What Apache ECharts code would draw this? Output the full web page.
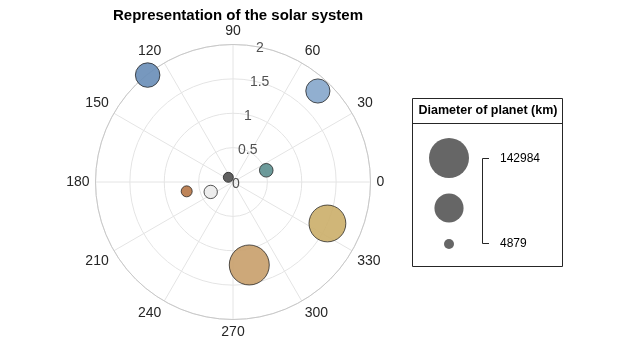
<!DOCTYPE html>
<html><head><meta charset="utf-8">
<script src="https://cdn.jsdelivr.net/npm/echarts@6/dist/echarts.min.js"></script>
<style>html,body{margin:0;padding:0;background:#fff}#c{width:640px;height:360px}</style>
</head><body><div id="c"></div>
<script>
// Data
var planets = ['Mercury','Venus','Earth','Mars','Jupiter','Saturn','Uranus','Neptune'];
var thetaDeg = [135, 204, 19.4, 191.4, 281.1, 336.3, 128.6, 47];
var rValues = [0.096, 0.355, 0.513, 0.687, 1.23, 1.50, 1.99, 1.81];
var diameterKm = [4879, 12104, 12756, 6792, 142984, 120536, 51118, 49528];
var planetColors = ['#545454','#ececec','#5f9191','#b87a4b','#c9a16e','#ccb06c','#6b8fb8','#88a8cc'];
var angleTicks = [0,30,60,90,120,150,180,210,240,270,300,330];
var radiusTicks = [0, 0.5, 1, 1.5, 2];
var radiusTickAngle = 80;

var minD = 10, maxD = 40;
var kMin = Math.min.apply(null, diameterKm), kMax = Math.max.apply(null, diameterKm);
function sz(k){ var a = minD*minD + (maxD*maxD - minD*minD)*(k - kMin)/(kMax - kMin); return Math.sqrt(a); }

var cx = 233, cy = 182, R = 137.5;
var font = 'Liberation Sans, Arial, sans-serif';

var chart = echarts.init(document.getElementById('c'), null, {renderer:'canvas'});

var bubbleData = planets.map(function(p,i){
  return {name:p, value:[rValues[i], thetaDeg[i]], symbolSize: sz(diameterKm[i]),
    itemStyle:{color: planetColors[i], borderColor:'#1a1a1a', borderWidth:0.8, opacity:0.92}};
});
var rLabelData = radiusTicks.map(function(t){ return {value:[t, radiusTickAngle], label:{formatter:String(t)}}; });

// legend geometry
var lgX = 412, lgY = 98, lgW = 150, lgH = 168;
var bigR = sz(kMax)/2, smallR = sz(kMin)/2;
var midR = Math.sqrt((bigR*bigR + smallR*smallR)/2);
var bx = 449, yBig = 158, yMid = 208, ySmall = 244;

chart.setOption({
  animation:false,
  title:{text:'Representation of the solar system', left:cx, top:3, textAlign:'center',
    textStyle:{fontFamily:font, fontSize:15, fontWeight:'bold', color:'#000'}},
  polar:{center:[cx,cy], radius:R},
  angleAxis:{type:'value', min:0, max:360, interval:30, startAngle:0, clockwise:false,
    axisLine:{show:true, lineStyle:{color:'#c8c8c8', width:1}},
    axisTick:{show:false},
    splitLine:{show:true, lineStyle:{color:'#e4e4e4', width:1}},
    axisLabel:{show:true, margin:6, fontFamily:font, fontSize:14, color:'#262626',
      formatter:function(v){ return angleTicks.indexOf(v) >= 0 ? String(v) : ''; }}
  },
  radiusAxis:{type:'value', min:0, max:2, interval:0.5,
    axisLine:{show:false}, axisTick:{show:false}, axisLabel:{show:false},
    splitLine:{show:true, lineStyle:{color:'#e4e4e4', width:1}}
  },
  series:[
    {type:'scatter', coordinateSystem:'polar', data:bubbleData, z:3},
    {type:'scatter', coordinateSystem:'polar', data:rLabelData, symbolSize:0, silent:true, z:4,
      label:{show:true, position:'right', distance:0, offset:[-1,2], fontFamily:font, fontSize:14, color:'#262626'}}
  ],
  graphic:[
    {type:'rect', shape:{x:lgX+0.5, y:lgY+0.5, width:lgW, height:lgH}, style:{fill:'#fff', stroke:'#262626', lineWidth:1}},
    {type:'line', shape:{x1:lgX, y1:123.5, x2:lgX+lgW, y2:123.5}, style:{stroke:'#262626', lineWidth:1}},
    {type:'text', x:lgX+lgW/2+1, y:111, style:{text:'Diameter of planet (km)', font:'bold 12.5px '+font, fill:'#000', align:'center', verticalAlign:'middle'}},
    {type:'circle', shape:{cx:bx, cy:yBig, r:bigR}, style:{fill:'#666'}},
    {type:'circle', shape:{cx:bx, cy:yMid, r:midR}, style:{fill:'#666'}},
    {type:'circle', shape:{cx:bx, cy:ySmall, r:smallR}, style:{fill:'#666'}},
    {type:'polyline', shape:{points:[[489,158.5],[482.5,158.5],[482.5,243.5],[489,243.5]]}, style:{stroke:'#262626', fill:null, lineWidth:1}},
    {type:'text', x:500, y:159, style:{text:String(kMax), font:'12px '+font, fill:'#000', verticalAlign:'middle'}},
    {type:'text', x:500, y:244, style:{text:String(kMin), font:'12px '+font, fill:'#000', verticalAlign:'middle'}}
  ]
});
</script></body></html>
